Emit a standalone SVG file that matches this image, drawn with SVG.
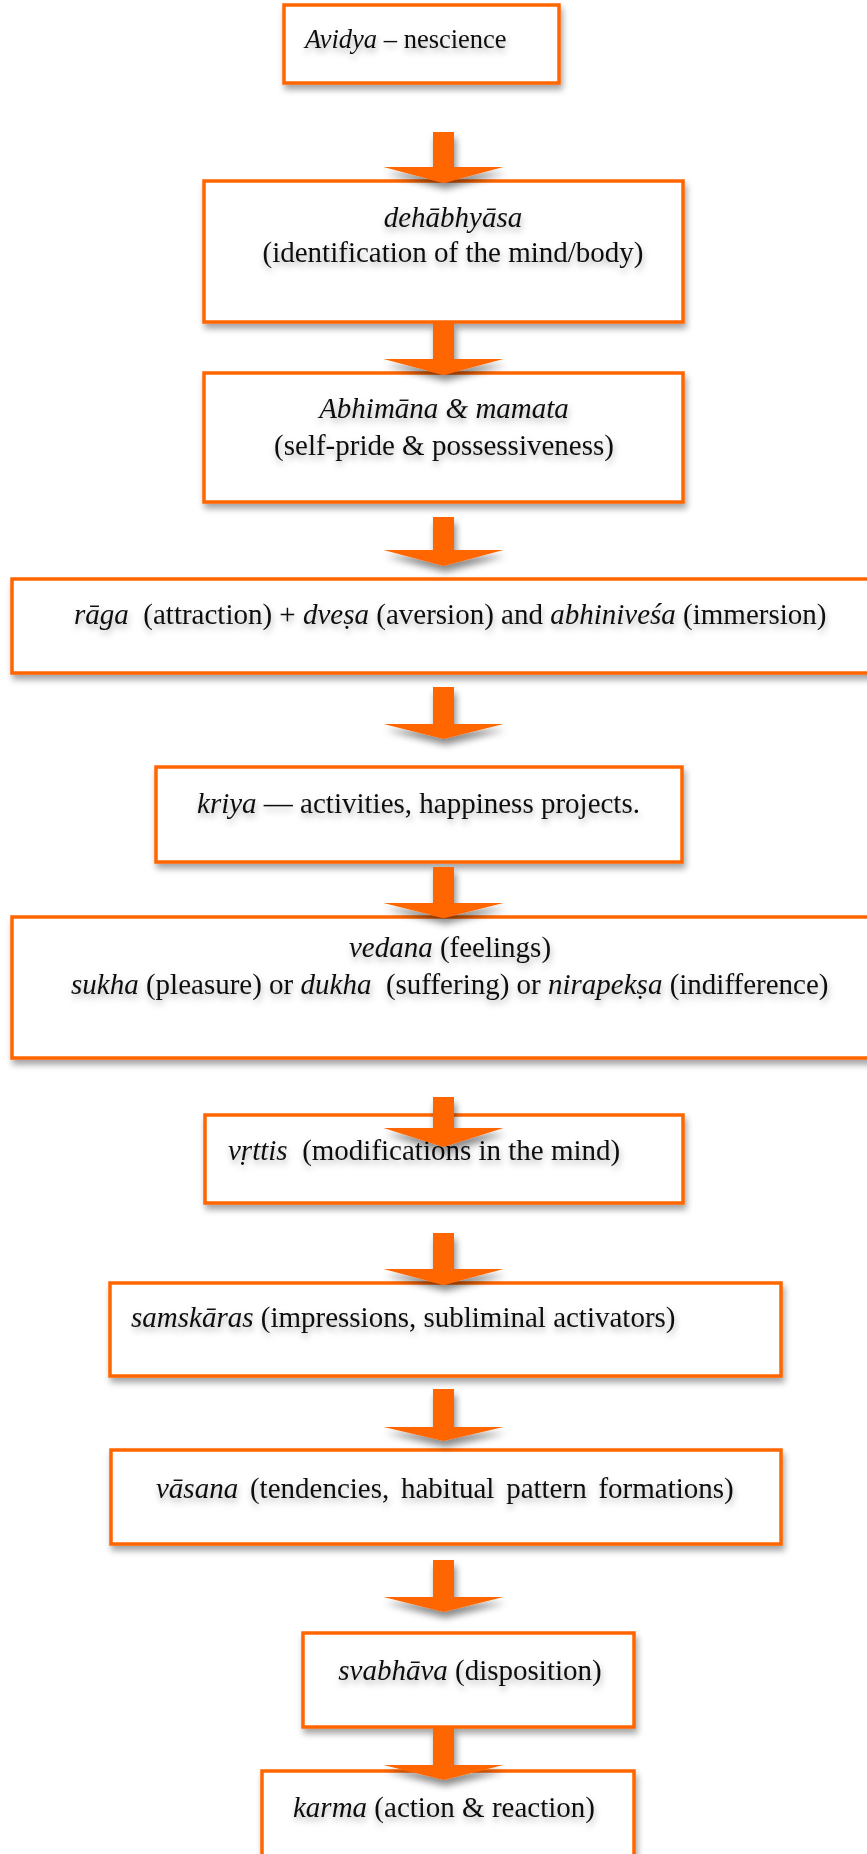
<svg xmlns="http://www.w3.org/2000/svg" width="867" height="1854" viewBox="0 0 867 1854">
<defs>
<filter id="bsh" x="-10%" y="-20%" width="130%" height="150%">
<feDropShadow dx="2" dy="5" stdDeviation="3" flood-color="#000" flood-opacity="0.35"/>
</filter>
<filter id="tsh" x="-5%" y="-40%" width="110%" height="200%">
<feDropShadow dx="1" dy="4" stdDeviation="3" flood-color="#000" flood-opacity="0.3"/>
</filter>
<filter id="ash" x="-20%" y="-20%" width="140%" height="160%">
<feDropShadow dx="2" dy="6" stdDeviation="3.5" flood-color="#000" flood-opacity="0.45"/>
</filter>
</defs>
<style>
.box{fill:#fff;stroke:#FF6600;stroke-width:3.5;filter:url(#bsh)}
.t{font-family:"Liberation Serif","Times New Roman",serif;font-size:29px;fill:#111;filter:url(#tsh)}
.i{font-style:italic}
.arr{fill:#FF6600;filter:url(#ash)}
</style>
<rect width="867" height="1854" fill="#fff"/>
<g id="n1"><rect class="box" x="284" y="5" width="275" height="78"/><text class="t" x="305" y="48" style="font-size:26.5px"><tspan class="i">Avidya</tspan> – nescience</text></g>
<g id="n2"><rect class="box" x="204" y="181" width="479" height="141"/><text class="t" text-anchor="middle"><tspan class="i" x="453" y="227">dehābhyāsa</tspan><tspan x="453" y="262">(identification of the mind/body)</tspan></text></g>
<g id="n3"><rect class="box" x="204" y="373" width="479" height="129"/><text class="t" text-anchor="middle"><tspan x="444" y="418"><tspan class="i">Abhimāna &amp; mamata</tspan></tspan><tspan x="444" y="455">(self-pride &amp; possessiveness)</tspan></text></g>
<g id="n4"><rect class="box" x="12" y="579" width="900" height="94"/><text class="t" x="74" y="624" xml:space="preserve"><tspan class="i">rāga</tspan>  (attraction) + <tspan class="i">dveṣa</tspan> (aversion) and <tspan class="i">abhiniveśa</tspan> (immersion)</text></g>
<g id="n5"><rect class="box" x="156" y="767" width="526" height="95"/><text class="t" x="418.5" y="813" text-anchor="middle"><tspan class="i">kriya</tspan> — activities, happiness projects.</text></g>
<g id="n6"><rect class="box" x="12" y="917" width="900" height="141"/><text class="t" x="450" y="957" text-anchor="middle"><tspan class="i">vedana</tspan> (feelings)</text><text class="t" x="71" y="994" xml:space="preserve"><tspan class="i">sukha</tspan> (pleasure) or <tspan class="i">dukha</tspan>  (suffering) or <tspan class="i">nirapekṣa</tspan> (indifference)</text></g>
<g id="n7"><rect class="box" x="205" y="1115" width="478" height="88"/><text class="t" x="228" y="1160" xml:space="preserve"><tspan class="i">vṛttis</tspan>  (modifications in the mind)</text></g>
<g id="n8"><rect class="box" x="110" y="1283" width="671" height="93"/><text class="t" x="131" y="1327"><tspan class="i">samskāras</tspan> (impressions, subliminal activators)</text></g>
<g id="n9"><rect class="box" x="111" y="1450" width="670" height="94"/><text class="t" x="156" y="1498" word-spacing="4.5"><tspan class="i">vāsana</tspan> (tendencies, habitual pattern formations)</text></g>
<g id="n10"><rect class="box" x="303" y="1633" width="331" height="94"/><text class="t" x="470" y="1680" text-anchor="middle"><tspan class="i">svabhāva</tspan> (disposition)</text></g>
<g id="n11"><rect class="box" x="262" y="1771" width="372" height="120"/><text class="t" x="293" y="1817"><tspan class="i">karma</tspan> (action &amp; reaction)</text></g>
<g id="connectors">
<polygon class="arr" points="433,132 454,132 454,167 503.5,167 443.5,183 383.5,167 433,167"/>
<polygon class="arr" points="433,322 454,322 454,359 503.5,359 443.5,375 383.5,359 433,359"/>
<polygon class="arr" points="433,517 454,517 454,550 503.5,550 443.5,566 383.5,550 433,550"/>
<polygon class="arr" points="433,687 454,687 454,724 503.5,724 443.5,739 383.5,724 433,724"/>
<polygon class="arr" points="433,867 454,867 454,903 503.5,903 443.5,918 383.5,903 433,903"/>
<polygon class="arr" points="433,1097 454,1097 454,1128 503.5,1128 443.5,1147 383.5,1128 433,1128"/>
<polygon class="arr" points="433,1233 454,1233 454,1269 503.5,1269 443.5,1285 383.5,1269 433,1269"/>
<polygon class="arr" points="433,1389 454,1389 454,1427 503.5,1427 443.5,1441 383.5,1427 433,1427"/>
<polygon class="arr" points="433,1560 454,1560 454,1597 503.5,1597 443.5,1612 383.5,1597 433,1597"/>
<polygon class="arr" points="433,1727 454,1727 454,1765 503.5,1765 443.5,1780 383.5,1765 433,1765"/>
</g>
</svg>
